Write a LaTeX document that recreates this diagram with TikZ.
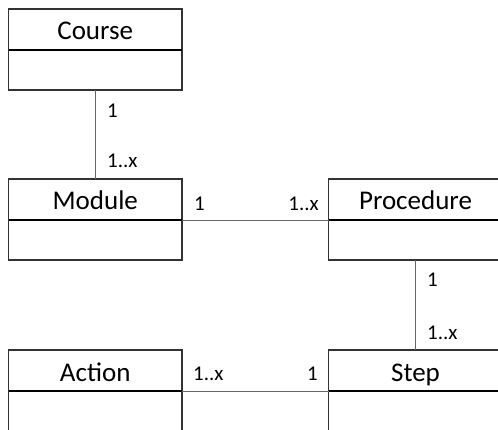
\documentclass[tikz,border=0pt]{standalone}
\usepackage{fontspec}
\setmainfont{Carlito}
\begin{document}
\begin{tikzpicture}[x=1pt,y=-1pt,
  box/.style={draw=black!80, line width=1.1pt, minimum width=173.5pt, inner sep=0pt, outer sep=0pt},
  header/.style={box, minimum height=41pt, text height=21pt, text depth=0pt,
    font=\fontsize{27}{30}\selectfont},
  body/.style={box, minimum height=40pt, anchor=north},
  divider/.style={line width=2pt, black},
  link/.style={draw=black!60, line width=0.9pt},
  mult/.style={font=\fontsize{21}{24}\selectfont, inner sep=0pt}]
\useasboundingbox (0,0) rectangle (498,430);
\clip (0,0) rectangle (498,430);

% class boxes: a title compartment and an empty body compartment
\node[header] (course) at (95.25,29.5) {Course};
\node[body] (coursebody) at (course.south) {};
\node[header] (module) at (95.25,199.5) {Module};
\node[body] (modulebody) at (module.south) {};
\node[header] (procedure) at (415.5,199.5) {Procedure};
\node[body] (procedurebody) at (procedure.south) {};
\node[header] (action) at (95.25,370.5) {Action};
\node[body] (actionbody) at (action.south) {};
\node[header] (stepcls) at (415.5,370.5) {Step};
\node[body] (stepbody) at (stepcls.south) {};

% heavier line between title and body
\foreach \c in {course,module,procedure,action,stepcls}
  \draw[divider] (\c.south west) -- (\c.south east);

% associations
\draw[link] (coursebody.south) -- (module.north);
\draw[link] (module.south east) -- (procedure.south west);
\draw[link] (procedurebody.south) -- (stepcls.north);
\draw[link] (action.south east) -- (stepcls.south west);

% multiplicities
\node[mult, anchor=west] (m1) at (107,111) {1};
\node[mult, anchor=west] (m2) at (107,161) {1..x};
\node[mult, anchor=west] (m3) at (194,203.5) {1};
\node[mult, anchor=east] (m4) at (319,203.5) {1..x};
\node[mult, anchor=west] (m5) at (427,280) {1};
\node[mult, anchor=west] (m6) at (427,333) {1..x};
\node[mult, anchor=west] (m7) at (193,374) {1..x};
\node[mult, anchor=east] (m8) at (318,374) {1};
\end{tikzpicture}
\end{document}
